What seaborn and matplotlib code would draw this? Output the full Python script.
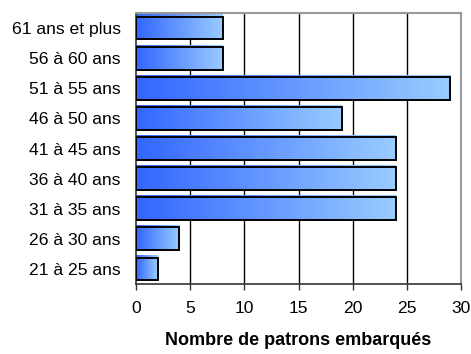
import matplotlib
matplotlib.use("Agg")
import matplotlib.pyplot as plt
import numpy as np
import pandas as pd
import seaborn as sns
from matplotlib.colors import LinearSegmentedColormap

categories = ["61 ans et plus", "56 à 60 ans", "51 à 55 ans", "46 à 50 ans",
              "41 à 45 ans", "36 à 40 ans", "31 à 35 ans", "26 à 30 ans", "21 à 25 ans"]
values = [8, 8, 29, 19, 24, 24, 24, 4, 2]
xticks = [0, 5, 10, 15, 20, 25, 30]
xlabel = "Nombre de patrons embarqués"

sns.set_style("white")
plt.rcParams['font.family'] = ['Liberation Sans', 'DejaVu Sans']
plt.rcParams['text.color'] = 'black'
plt.rcParams['xtick.color'] = 'black'
plt.rcParams['ytick.color'] = 'black'
plt.rcParams['axes.labelcolor'] = 'black'

df = pd.DataFrame({"cat": categories, "val": values})

fig = plt.figure(figsize=(4.71, 3.54), dpi=100)
ax = fig.add_axes([136/471, 1-284/354, (461-136)/471, (284-13)/354])

sns.barplot(data=df, x="val", y="cat", orient="h", order=categories,
            width=0.76, color="#3366FF", ax=ax, zorder=3)

cmap = LinearSegmentedColormap.from_list("g", ["#3366FF", "#99CCFF"])
grad = np.linspace(0, 1, 256).reshape(1, -1)
for p in ax.patches:
    x0, y0 = p.get_x(), p.get_y()
    w, h = p.get_width(), p.get_height()
    ax.imshow(grad, extent=[x0, x0 + w, y0 + h, y0 - 0.04], aspect="auto",
              cmap=cmap, zorder=2, interpolation="bicubic")
    p.set_facecolor("none")
    p.set_edgecolor("black")
    p.set_linewidth(1.4)

ax.set_xlim(0, 30)
ax.set_ylim(len(categories) - 0.5, -0.5)
ax.set_xticks(xticks)
ax.set_xticklabels([str(t) for t in xticks])

for t in xticks[1:-1]:
    ax.axvline(t, color="black", lw=1.0, zorder=1)

for side in ["top", "right"]:
    ax.spines[side].set_color("#999999")
    ax.spines[side].set_linewidth(1.5)
for side in ["left", "bottom"]:
    ax.spines[side].set_color("#333333")
    ax.spines[side].set_linewidth(1.2)

ax.set_yticks(np.arange(-0.5, len(categories), 1.0), minor=True)
ax.tick_params(axis="y", which="major", length=0, pad=11, labelsize=12.6, labelcolor="black")
ax.tick_params(axis="y", which="minor", length=4, width=1, color="#333333", direction="out")
ax.tick_params(axis="x", which="major", length=4, width=1, color="#333333",
               direction="out", pad=8.5, labelsize=12.6, labelcolor="black")
ax.tick_params(left=True, bottom=True)
ax.set_ylabel("")
ax.set_xlabel(xlabel, fontsize=13, fontweight="bold", labelpad=11, color="black")

fig.savefig("out.png", dpi=100)
